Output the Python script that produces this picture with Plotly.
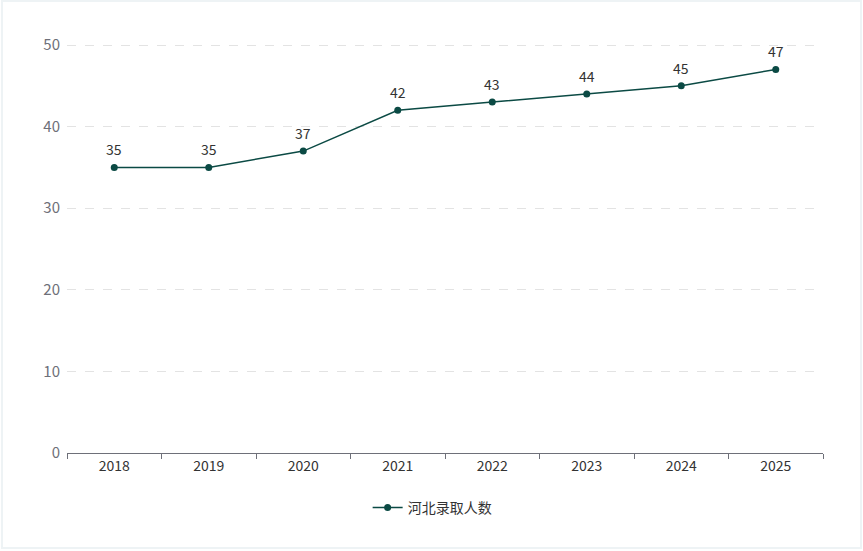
import plotly.graph_objects as go

years = ["2018", "2019", "2020", "2021", "2022", "2023", "2024", "2025"]
admitted = [35, 35, 37, 42, 43, 44, 45, 47]
series_name = "河北录取人数"
y_ticks = [0, 10, 20, 30, 40, 50]

color = "#0b4a44"
font_family = "Noto Sans CJK SC, Noto Sans, sans-serif"

fig = go.Figure()
fig.add_trace(go.Scatter(
    x=years, y=admitted, name=series_name,
    mode="lines+markers",
    line=dict(color=color, width=1.5),
    marker=dict(color=color, size=7),
    cliponaxis=False,
))

# value labels: category axis positions are the category indices
for i, v in enumerate(admitted):
    fig.add_annotation(x=i, y=v, text=str(v), showarrow=False,
                       xref="x", yref="y",
                       yanchor="bottom", yshift=6,
                       font=dict(size=14, color="#333333", family=font_family))

fig.update_layout(
    width=863, height=551,
    margin=dict(l=67, r=40, t=43, b=98),
    paper_bgcolor="white", plot_bgcolor="white",
    font=dict(family=font_family),
    showlegend=True,
    legend=dict(orientation="h", x=0.483, xanchor="center", y=-0.095, yanchor="top",
                itemwidth=30,
                font=dict(size=14, color="#333333")),
    xaxis=dict(
        type="category", range=[-0.5, 7.5],
        categoryorder="array", categoryarray=years,
        tickson="boundaries", ticks="outside", ticklen=5, tickcolor="#6e7079",
        showline=True, linecolor="#6e7079", linewidth=1,
        showgrid=False, zeroline=False,
        tickfont=dict(size=14, color="#333333"),
    ),
    yaxis=dict(
        range=[0, 50 * 410 / 408], tickvals=y_ticks,
        showgrid=True, gridcolor="#e3e3e3", griddash="dash",
        zeroline=False, showline=False,
        tickfont=dict(size=15, color="#6e7079"), ticklabelstandoff=6,
    ),
)

fig.add_shape(type="rect", xref="paper", yref="paper",
              x0=-65/756, x1=1 + 38/756, y0=-95/410, y1=1 + 42/410,
              line=dict(color="#eef3f5", width=2), fillcolor="rgba(0,0,0,0)", layer="below")

fig.write_html("out.html", config={"displayModeBar": False},
               post_script="document.body.style.margin='0';")
